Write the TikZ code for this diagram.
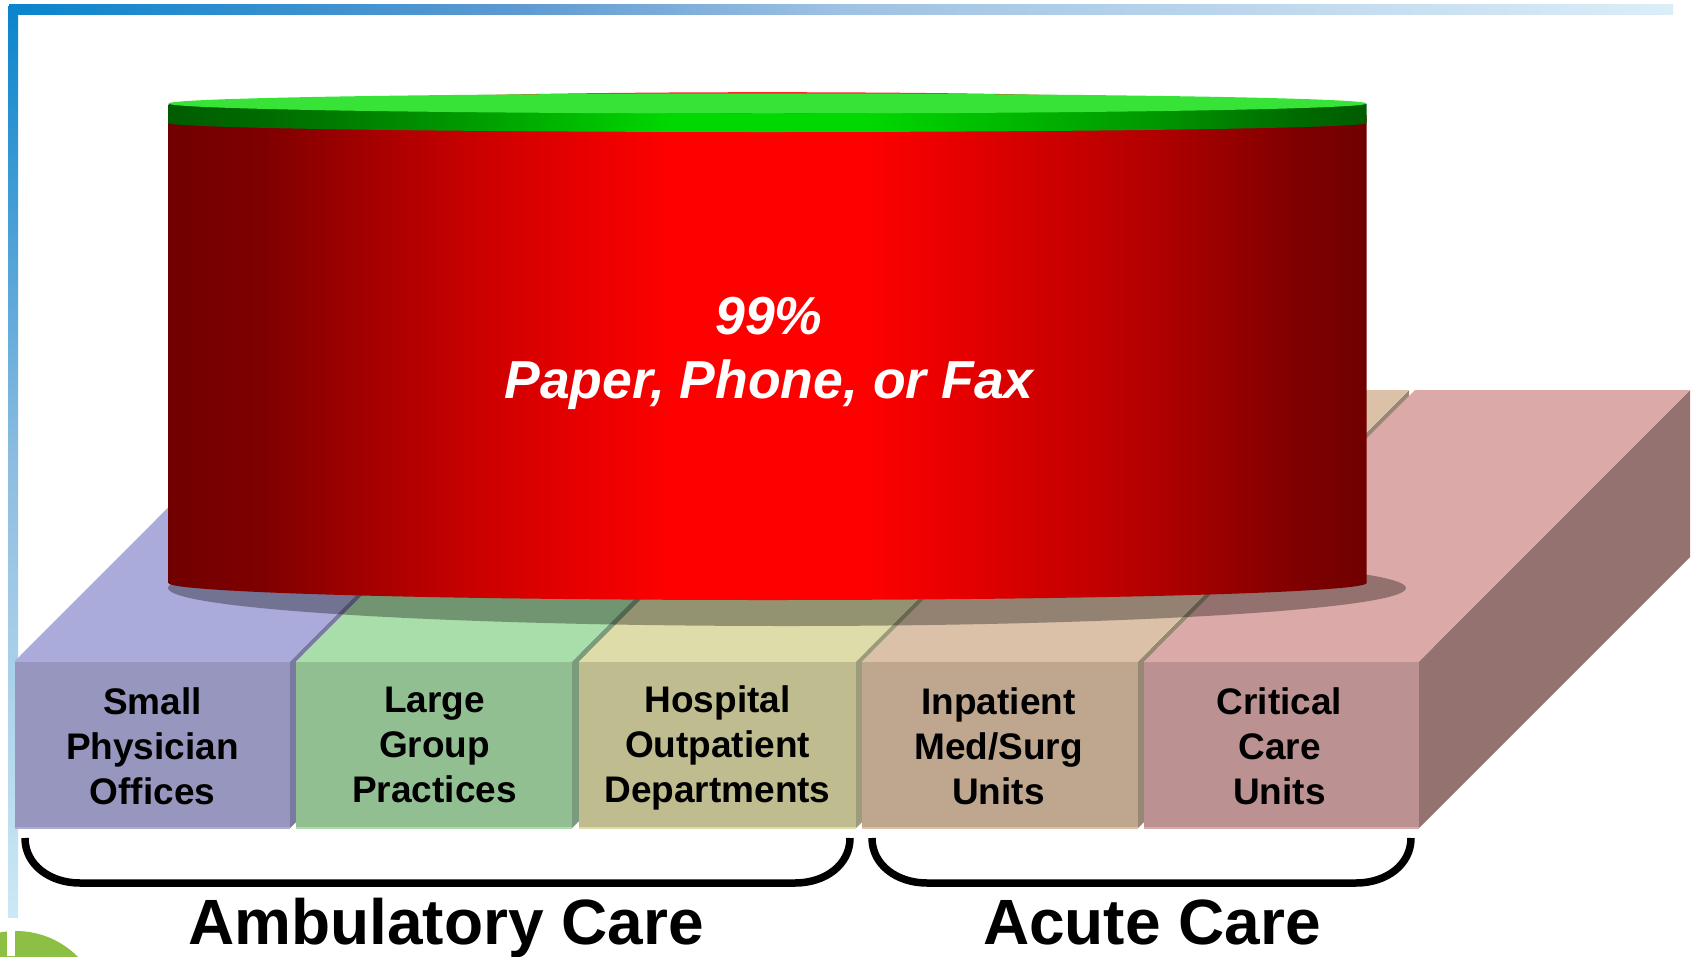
\documentclass[tikz,border=0pt]{standalone}
\usepackage{fontspec}
\setmainfont{Liberation Sans}
\pgfdeclarehorizontalshading{cylred}{100bp}{rgb(0bp)=(.44,0,0); rgb(25bp)=(.44,0,0); rgb(29bp)=(.50,0,0); rgb(38bp)=(.80,0,0); rgb(46bp)=(1,0,0); rgb(54bp)=(1,0,0); rgb(66bp)=(.70,0,0); rgb(72bp)=(.50,0,0); rgb(75bp)=(.44,0,0); rgb(100bp)=(.44,0,0)}
\pgfdeclarehorizontalshading{cylgreen}{100bp}{rgb(0bp)=(0,.36,0); rgb(25bp)=(0,.36,0); rgb(29bp)=(0,.42,0); rgb(38bp)=(0,.62,0); rgb(46bp)=(0,.85,0); rgb(54bp)=(0,.85,0); rgb(66bp)=(0,.6,0); rgb(72bp)=(0,.42,0); rgb(75bp)=(0,.36,0); rgb(100bp)=(0,.36,0)}
\pgfdeclarehorizontalshading{barh}{100bp}{rgb(0bp)=(.04,.52,.80); rgb(25bp)=(.04,.52,.80); rgb(40bp)=(.36,.60,.82); rgb(50bp)=(.62,.76,.89); rgb(75bp)=(.86,.93,.97); rgb(100bp)=(.86,.93,.97)}
\pgfdeclareverticalshading{barv}{100bp}{rgb(0bp)=(.80,.91,.96); rgb(25bp)=(.80,.91,.96); rgb(50bp)=(.55,.74,.88); rgb(75bp)=(.04,.52,.80); rgb(100bp)=(.04,.52,.80)}
\definecolor{purpT}{HTML}{AAAADB}\definecolor{purpF}{HTML}{9696BE}\definecolor{purpS}{HTML}{7A7AA0}
\definecolor{grnT}{HTML}{A9DDA9}\definecolor{grnF}{HTML}{92BF92}\definecolor{grnS}{HTML}{7A9C7C}
\definecolor{yelT}{HTML}{DEDCA9}\definecolor{yelF}{HTML}{BFBC8F}\definecolor{yelS}{HTML}{9C9C7A}
\definecolor{tanT}{HTML}{DCC1A9}\definecolor{tanF}{HTML}{BFA78F}\definecolor{tanS}{HTML}{968873}
\definecolor{pnkT}{HTML}{DBA9A7}\definecolor{pnkF}{HTML}{BB9291}\definecolor{pnkS}{HTML}{937270}
\definecolor{cylTop}{HTML}{36E336}
\definecolor{logoGreen}{HTML}{8DBF45}
\tikzset{
  blocklabel/.style={font=\fontsize{37}{44.8}\selectfont\bfseries,align=center,text=black,anchor=base,inner sep=0pt},
  grouplabel/.style={font=\fontsize{64}{70}\selectfont\bfseries,text=black,anchor=base,inner sep=0pt},
  cyllabel/.style={font=\fontsize{53.5}{63.6}\selectfont\bfseries\itshape,align=center,text=white,anchor=base,inner sep=0pt},
  bracket/.style={draw=black,line width=7.5pt,line cap=butt}
}
% #1 left x, #2 right x, #3 top colour, #4 front colour, #5 side colour
\newcommand{\platblock}[5]{%
  \fill[#5] (#2,661.5) -- (#2+271,390) -- (#2+271,557) -- (#2,828) -- cycle;
  \fill[#3] (#1,661.5) -- (#1+271,390) -- (#2+271,390) -- (#2,661.5) -- cycle;
  \fill[#4] (#1,661.5) rectangle (#2,828);
  \draw[#3,line width=1.5pt] (#1,661.5) -- (#2,661.5);
  \draw[#3,line width=1.5pt] (#1,828) -- (#2,828);
}
\begin{document}
\begin{tikzpicture}[x=1pt,y=-1pt]
\useasboundingbox (0,0) rectangle (1692,956);
\fill[white] (0,0) rectangle (1692,956);
% frame bars
\shade[shading=barv] (8,6) rectangle (18,917);
\shade[shading=barh] (9,4) rectangle (1673,14);
% logo fragment
\begin{scope}
\clip (0,900) rectangle (120,956);
\fill[logoGreen] (16,1018) circle[radius=87];
\fill[white] (7,925) rectangle (15,956);
\end{scope}
% platform
\platblock{14.5}{290}{purpT}{purpF}{purpS}
\platblock{296}{572}{grnT}{grnF}{grnS}
\platblock{579}{856}{yelT}{yelF}{yelS}
\platblock{862}{1138}{tanT}{tanF}{tanS}
\platblock{1144}{1419}{pnkT}{pnkF}{pnkS}
% shadow
\fill[black,opacity=.33] (787,588) ellipse[x radius=619,y radius=38];
% cylinder
\path[shading=cylred] (168.5,115) -- (168.5,583) arc[start angle=180,end angle=0,x radius=599,y radius=17] -- (1366.5,115) -- cycle;
\path[shading=cylgreen] (168.5,104) -- (168.5,123) arc[start angle=180,end angle=0,x radius=599,y radius=9] -- (1366.5,104) -- cycle;
\fill[red!85!white] (767.5,103) ellipse[x radius=420,y radius=10.8];
\fill[cylTop] (767.5,103.5) ellipse[x radius=599,y radius=10];
% labels
\node[cyllabel] (cyl) at (769,398.5) {99\%\\Paper, Phone, or Fax};
\node[blocklabel] (b1) at (152.5,804.5) {Small\\Physician\\Offices};
\node[blocklabel] (b2) at (434.5,802.5) {Large\\Group\\Practices};
\node[blocklabel] (b3) at (717.5,802.5) {Hospital\\Outpatient\\Departments};
\node[blocklabel] (b4) at (998.5,804.5) {Inpatient\\Med/Surg\\Units};
\node[blocklabel] (b5) at (1279.5,804.5) {Critical\\Care\\Units};
% brackets
\path[bracket] (25,838) .. controls (25,865) and (50,883) .. (80,883) -- (795,883) .. controls (825,883) and (850,865) .. (850,838);
\path[bracket] (872,838) .. controls (872,865) and (897,883) .. (927,883) -- (1356,883) .. controls (1386,883) and (1411,865) .. (1411,838);
\node[grouplabel] (g1) at (446,944) {Ambulatory Care};
\node[grouplabel] (g2) at (1152,944) {Acute Care};
\end{tikzpicture}
\end{document}
